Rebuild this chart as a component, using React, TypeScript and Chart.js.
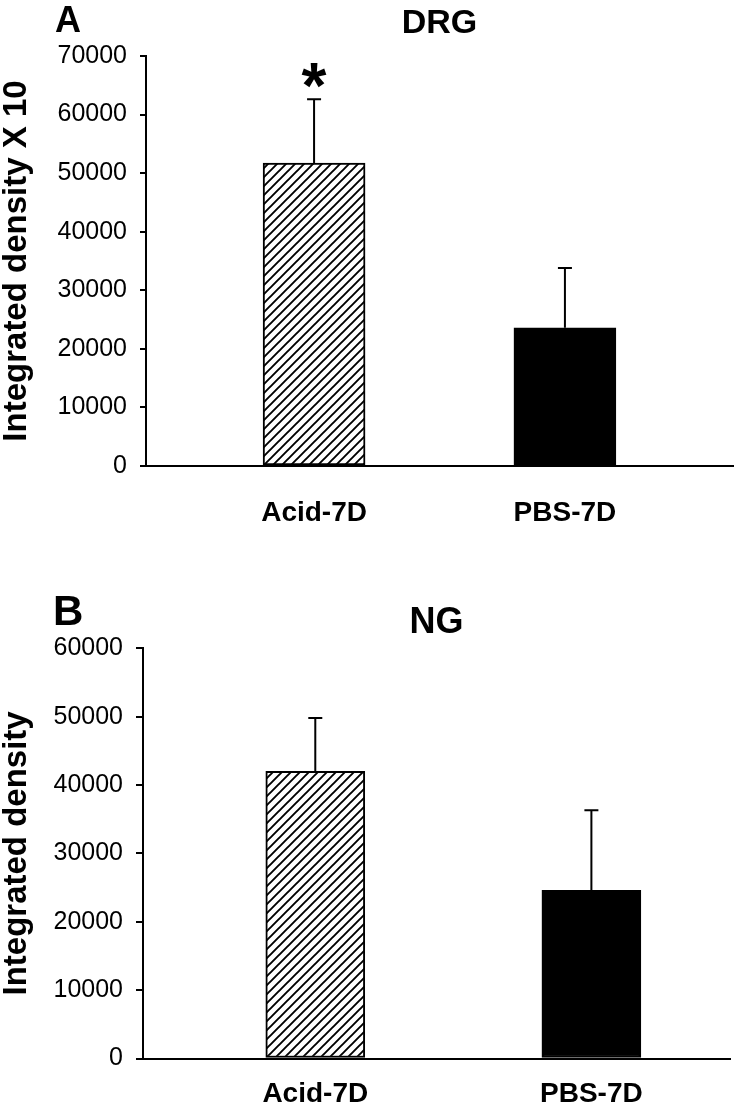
import React, { useEffect, useRef } from 'react';
import { Chart, registerables } from 'chart.js';

Chart.register(...registerables);

// ---- data ----
const categories = ['Acid-7D', 'PBS-7D'];

const drgValues = [51700, 23600];
const drgErrors = [10900, 10200];
const drgMarks = ['*', ''];
const drgYMax = 70000;
const drgYStep = 10000;

const ngValues = [42000, 24600];
const ngErrors = [7800, 11700];
const ngMarks = ['', ''];
const ngYMax = 60000;
const ngYStep = 10000;

const FONT = '"Liberation Sans", Arial, Helvetica, sans-serif';

function makeHatch(): CanvasPattern | string {
  const size = 9;
  const c = document.createElement('canvas');
  c.width = size;
  c.height = size;
  const g = c.getContext('2d');
  if (!g) return '#fff';
  g.fillStyle = '#fff';
  g.fillRect(0, 0, size, size);
  g.strokeStyle = '#000';
  g.lineWidth = 1.9;
  g.beginPath();
  g.moveTo(-1, size + 1);
  g.lineTo(size + 1, -1);
  g.moveTo(-2, 2);
  g.lineTo(2, -2);
  g.moveTo(size - 2, size + 2);
  g.lineTo(size + 2, size - 2);
  g.stroke();
  const p = g.createPattern(c, 'repeat');
  return p || '#fff';
}

const annotPlugin = {
  id: 'annot',
  afterDatasetsDraw(chart: any, _args: any, opts: any) {
    const { ctx } = chart;
    const meta = chart.getDatasetMeta(0);
    const yScale = chart.scales.y;
    ctx.save();
    ctx.strokeStyle = '#000';
    ctx.lineWidth = 2;
    meta.data.forEach((bar: any, i: number) => {
      const x = bar.x;
      const top = bar.y;
      const yErr = yScale.getPixelForValue(opts.values[i] + opts.errors[i]);
      ctx.beginPath();
      ctx.moveTo(x, top);
      ctx.lineTo(x, yErr);
      ctx.moveTo(x - 7, yErr);
      ctx.lineTo(x + 7, yErr);
      ctx.stroke();
      const mark = opts.marks[i];
      if (mark) {
        ctx.font = `bold ${opts.markSize}px ${FONT}`;
        ctx.fillStyle = '#000';
        ctx.textAlign = 'center';
        ctx.textBaseline = 'alphabetic';
        const m = ctx.measureText(mark);
        const bottom = yErr - opts.markGap;
        ctx.fillText(mark, x, bottom - m.actualBoundingBoxDescent);
      }
    });
    ctx.restore();
  },
  afterDraw(chart: any, _args: any, opts: any) {
    const { ctx } = chart;
    ctx.save();
    ctx.font = `bold ${opts.letterSize}px ${FONT}`;
    ctx.fillStyle = '#000';
    ctx.textAlign = 'left';
    ctx.textBaseline = 'alphabetic';
    ctx.fillText(opts.letter, opts.letterX, opts.letterY);
    ctx.restore();
  },
};

interface PanelProps {
  letter: string;
  letterSize: number;
  letterX: number;
  letterY: number;
  title: string;
  titleSize: number;
  titlePadTop: number;
  titlePadBottom: number;
  yTitle: string;
  values: number[];
  errors: number[];
  marks: string[];
  yMax: number;
  yStep: number;
  height: number;
  yAxisWidth: number;
  xAxisHeight: number;
  xLabelPad: number;
  yTickLen: number;
  padRight: number;
  xMin: number;
  xMax: number;
  barThickness: number;
}

function Panel(p: PanelProps) {
  const ref = useRef<HTMLCanvasElement>(null);
  useEffect(() => {
    const canvas = ref.current;
    if (!canvas) return;
    const hatch = makeHatch();
    const chart = new Chart(canvas, {
      type: 'bar',
      data: {
        datasets: [
          {
            data: p.values.map((v, i) => ({ x: i, y: v })),
            backgroundColor: [hatch, '#000'],
            borderColor: '#000',
            borderWidth: 2,
            borderSkipped: false,
            barThickness: p.barThickness,
          } as any,
        ],
      },
      options: {
        responsive: false,
        maintainAspectRatio: false,
        animation: false,
        layout: { padding: { left: 0, right: p.padRight, top: 0, bottom: 0 } },
        plugins: {
          legend: { display: false },
          tooltip: { enabled: false },
          title: {
            display: true,
            text: p.title,
            color: '#000',
            fullSize: false,
            align: 'center',
            font: { family: FONT, size: p.titleSize, weight: 'bold', lineHeight: 1.2 },
            padding: { top: p.titlePadTop, bottom: p.titlePadBottom },
          },
          annot: {
            values: p.values,
            errors: p.errors,
            marks: p.marks,
            markSize: 64,
            markGap: 11,
            letter: p.letter,
            letterSize: p.letterSize,
            letterX: p.letterX,
            letterY: p.letterY,
          },
        } as any,
        scales: {
          x: {
            type: 'linear',
            offset: false,
            min: p.xMin,
            max: p.xMax,
            grid: { display: false, drawTicks: false, tickLength: 0, offset: false },
            border: { display: true, color: '#000', width: 2 },
            afterBuildTicks: (s: any) => {
              s.ticks = categories.map((_, i) => ({ value: i }));
            },
            afterFit: (s: any) => {
              s.height = p.xAxisHeight;
            },
            ticks: {
              autoSkip: false,
              maxRotation: 0,
              minRotation: 0,
              color: '#000',
              padding: p.xLabelPad,
              font: { family: FONT, size: 28, weight: 'bold' },
              callback: (v: any) => categories[v as number] ?? '',
            },
          },
          y: {
            type: 'linear',
            min: 0,
            max: p.yMax,
            grid: {
              display: true,
              drawOnChartArea: false,
              drawTicks: true,
              tickLength: p.yTickLen,
              color: '#000',
              lineWidth: 2,
            },
            border: { display: true, color: '#000', width: 2 },
            afterFit: (s: any) => {
              s.width = p.yAxisWidth;
            },
            ticks: {
              stepSize: p.yStep,
              color: '#000',
              padding: 13,
              font: { family: FONT, size: 25 },
              callback: (v: any) => String(v),
            },
            title: {
              display: true,
              text: p.yTitle,
              color: '#000',
              font: { family: FONT, size: 33, weight: 'bold', lineHeight: 1 },
              padding: { top: 0, bottom: 0 },
            },
          },
        },
      } as any,
      plugins: [annotPlugin as any],
    });
    return () => chart.destroy();
  }, []);
  return <canvas ref={ref} width={734} height={p.height} style={{ display: 'block' }} />;
}

export default function App() {
  return (
    <div
      style={{
        position: 'absolute',
        left: 0,
        top: 0,
        width: 734,
        height: 1107,
        background: '#fff',
        overflow: 'hidden',
      }}
    >
      <Panel
        letter="A"
        letterSize={36}
        letterX={55}
        letterY={32}
        title="DRG"
        titleSize={34}
        titlePadTop={3.6}
        titlePadBottom={11.6}
        yTitle="Integrated density X 10"
        values={drgValues}
        errors={drgErrors}
        marks={drgMarks}
        yMax={drgYMax}
        yStep={drgYStep}
        height={550}
        yAxisWidth={146}
        xAxisHeight={84}
        xLabelPad={30}
        yTickLen={6}
        padRight={1}
        xMin={-0.67}
        xMax={1.67}
        barThickness={102}
      />
      <Panel
        letter="B"
        letterSize={42}
        letterX={53}
        letterY={75}
        title="NG"
        titleSize={36}
        titlePadTop={51.4}
        titlePadBottom={3.7}
        yTitle="Integrated density"
        values={ngValues}
        errors={ngErrors}
        marks={ngMarks}
        yMax={ngYMax}
        yStep={ngYStep}
        height={557}
        yAxisWidth={143}
        xAxisHeight={48.5}
        xLabelPad={19}
        yTickLen={7}
        padRight={4}
        xMin={-0.624}
        xMax={1.502}
        barThickness={99}
      />
    </div>
  );
}
